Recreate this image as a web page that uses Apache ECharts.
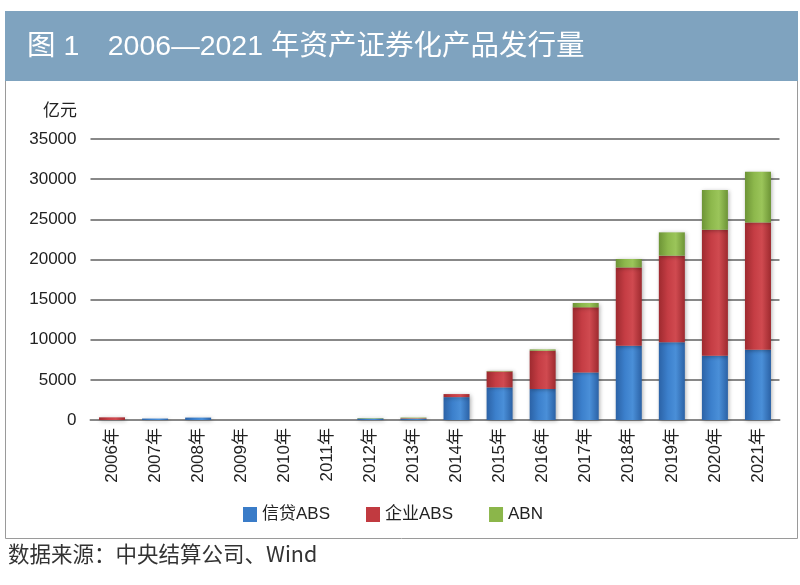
<!DOCTYPE html>
<html><head><meta charset="utf-8">
<script src="https://cdn.jsdelivr.net/npm/echarts@6/dist/echarts.min.js"></script>
<style>html,body{margin:0;padding:0;background:#fff}#c{width:800px;height:585px}</style>
</head><body><div id="c"></div>
<script>
const categories = ['2006年','2007年','2008年','2009年','2010年','2011年','2012年','2013年','2014年','2015年','2016年','2017年','2018年','2019年','2020年','2021年'];
const creditABS = [0, 180, 300, 0, 0, 0, 190, 160, 2850, 4060, 3870, 5930, 9250, 9670, 8010, 8760];
const corpABS   = [330, 0, 0, 0, 0, 0, 0, 60, 380, 1990, 4760, 8100, 9750, 10800, 15690, 15850];
const abn       = [0, 0, 0, 0, 0, 0, 60, 80, 0, 60, 160, 540, 1050, 2900, 4950, 6320];
const yTicks = [0, 5000, 10000, 15000, 20000, 25000, 30000, 35000];
const seriesNames = ['信贷ABS', '企业ABS', 'ABN'];

function grad(dark, mid, light) {
  return new echarts.graphic.LinearGradient(0, 0, 1, 0, [
    {offset: 0, color: dark}, {offset: 0.35, color: mid}, {offset: 0.65, color: light}, {offset: 1, color: dark}
  ]);
}
const colors = [
  grad('#2b62a6', '#3c80cc', '#4a8fd8'),
  grad('#9e2a2f', '#c53d44', '#d04a50'),
  grad('#6d9436', '#8db84c', '#9bc55a')
];
const legendColors = ['#3a7cc8', '#c13a40', '#8bb64a'];

const chart = echarts.init(document.getElementById('c'));
const dataSets = [creditABS, corpABS, abn];
chart.setOption({
  animation: false,
  textStyle: {fontFamily: 'Liberation Sans, Noto Sans CJK SC, sans-serif'},
  graphic: [
    {type: 'rect', shape: {x: 5.5, y: 11.5, width: 792, height: 527}, style: {fill: '#fff', stroke: '#9a9a9a', lineWidth: 1}, z: -10},
    {type: 'rect', shape: {x: 5, y: 11, width: 793, height: 70}, style: {fill: '#7fa3bf'}, z: -5},
    {type: 'text', left: 27, top: 33, style: {text: '图 1　2006—2021 年资产证券化产品发行量', fill: '#fff', font: '28.5px "Liberation Sans", "Noto Sans CJK SC", sans-serif'}},
    {type: 'text', left: 8, top: 543, style: {text: '数据来源：中央结算公司、Wind', fill: '#333', font: '21.5px "Noto Sans CJK SC", sans-serif'}},
    {type: 'text', right: 723, top: 101, style: {text: '亿元', fill: '#222', font: '17px "Noto Sans CJK SC", sans-serif'}}
  ],
  legend: {
    data: seriesNames.map((n, i) => ({name: n, itemStyle: {color: legendColors[i]}})),
    left: 238, top: 501, itemWidth: 14, itemHeight: 15, itemGap: 36, icon: 'rect',
    textStyle: {fontSize: 17, color: '#222', fontFamily: 'Liberation Sans, Noto Sans CJK SC, sans-serif'}
  },
  grid: {left: 90.5, right: 20.5, top: 139, bottom: 165, containLabel: false},
  xAxis: {
    type: 'category', data: categories,
    axisLine: {lineStyle: {color: '#888', width: 2}},
    axisTick: {show: false},
    axisLabel: {rotate: 90, fontSize: 17, color: '#222', margin: 8, interval: 0}
  },
  yAxis: {
    type: 'value', min: 0, max: 35000, interval: 5000,
    axisLine: {show: false}, axisTick: {show: false},
    axisLabel: {fontSize: 17, color: '#222', margin: 14, formatter: v => String(v)},
    splitLine: {lineStyle: {color: '#888', width: 2}}
  },
  series: seriesNames.map((n, i) => ({
    name: n, type: 'bar', stack: 'total', barWidth: 26,
    data: dataSets[i],
    itemStyle: {color: colors[i], shadowColor: 'rgba(0,0,0,0.3)', shadowBlur: 4, shadowOffsetX: 1, shadowOffsetY: 1}
  }))
});
</script></body></html>
